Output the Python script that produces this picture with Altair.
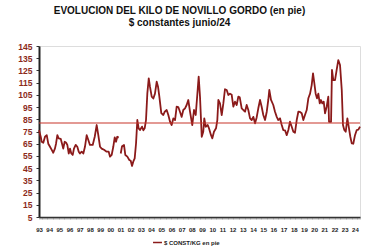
import altair as alt
import pandas as pd

# Decimal year / price ($ constantes junio/24 por kg) -- segment before the 2001 gap
T1 = [1993.00, 1993.17, 1993.26, 1993.42, 1993.59, 1993.76, 1993.91, 1994.08, 1994.25, 1994.40,
      1994.57, 1994.67, 1994.80, 1994.93, 1995.13, 1995.26, 1995.38, 1995.52, 1995.65, 1995.78,
      1995.92, 1996.04, 1996.17, 1996.31, 1996.43, 1996.60, 1996.76, 1996.90, 1997.02, 1997.19,
      1997.35, 1997.51, 1997.68, 1997.84, 1998.00, 1998.27, 1998.47, 1998.66, 1998.82, 1998.99,
      1999.15, 1999.38, 1999.64, 1999.84, 1999.97, 2000.13, 2000.29, 2000.43, 2000.56, 2000.68,
      2000.82]
V1 = [76, 70.7, 66.6, 65.8, 70.7, 72, 65, 62.5, 59.9, 57.6,
      61.2, 65, 72, 69.4, 69, 65, 61, 66.6, 66, 64,
      57, 61, 57, 55.8, 61, 64, 62.5, 58.5, 57, 58.5,
      57, 62.5, 72, 68, 64, 64, 70.7, 80.3, 72, 62.5,
      61, 60, 58.5, 58.5, 54.4, 55.8, 62.5, 70.2, 66.6, 70.7,
      70]

# Segment after the gap
T2 = [2001.02, 2001.15, 2001.34, 2001.47, 2001.67, 2001.86, 2002.00, 2002.13, 2002.25, 2002.39,
      2002.52, 2002.65, 2002.78, 2002.91, 2003.11, 2003.24, 2003.37, 2003.50, 2003.63, 2003.77,
      2003.89, 2004.06, 2004.22, 2004.38, 2004.55, 2004.68, 2004.81, 2005.00, 2005.20, 2005.34,
      2005.53, 2005.69, 2005.86, 2006.02, 2006.18, 2006.35, 2006.51, 2006.67, 2006.84, 2007.00,
      2007.16, 2007.33, 2007.49, 2007.65, 2007.82, 2008.04, 2008.21, 2008.38, 2008.57, 2008.67,
      2008.80, 2008.97, 2009.12, 2009.22, 2009.36, 2009.56, 2009.68, 2009.88, 2010.01, 2010.17,
      2010.37, 2010.50, 2010.60, 2010.76, 2010.93, 2011.09, 2011.25, 2011.42, 2011.58, 2011.74,
      2011.91, 2012.07, 2012.23, 2012.40, 2012.56, 2012.70, 2012.89, 2013.05, 2013.22, 2013.38,
      2013.54, 2013.71, 2013.87, 2014.03, 2014.20, 2014.36, 2014.52, 2014.69, 2014.85, 2015.01,
      2015.18, 2015.35, 2015.50, 2015.60, 2015.77, 2015.99, 2016.16, 2016.33, 2016.48, 2016.65,
      2016.82, 2016.97, 2017.14, 2017.31, 2017.47, 2017.63, 2017.80, 2017.96, 2018.12, 2018.29,
      2018.45, 2018.61, 2018.78, 2018.94, 2019.10, 2019.27, 2019.43, 2019.60, 2019.76, 2019.89,
      2020.02, 2020.15, 2020.28, 2020.41, 2020.55, 2020.67, 2020.80, 2020.94, 2021.07, 2021.23,
      2021.39, 2021.46, 2021.66, 2021.75, 2021.88, 2022.05, 2022.21, 2022.37, 2022.54, 2022.71,
      2022.83, 2022.96, 2023.10, 2023.26, 2023.42, 2023.55, 2023.69, 2023.84, 2024.01, 2024.18,
      2024.34, 2024.50]
V2 = [57, 63, 64, 55.8, 54.4, 51.7, 51, 46.8, 50.3, 53,
      65, 84.4, 77.6, 76.2, 79, 76, 77.6, 84.4, 106, 118.5,
      111.7, 103.5, 102, 106, 115.8, 111.7, 103.5, 90, 88.5, 91.2,
      92.6, 88.5, 83, 80.3, 85.7, 84.4, 95.3, 95, 91, 87,
      92.6, 94, 96.7, 100.8, 91.2, 80.3, 92.6, 88.5, 109, 119.9,
      103.5, 70.7, 74.8, 85.8, 78.9, 80.3, 77.6, 72, 69.4, 74.8,
      77.6, 84.4, 100.8, 98, 88.5, 98, 109.6, 109, 104.9, 106,
      105, 95.3, 99.4, 96.7, 103.5, 103, 94, 92.6, 91.2, 96.7,
      92.6, 85.8, 84.4, 87, 81.7, 86.5, 94, 100.8, 95.3, 88.5,
      84.4, 91.2, 100.8, 109, 100.8, 96.7, 91.2, 87, 84.4, 85.8,
      80.3, 76.2, 76, 72, 76.2, 83, 78.9, 74.8, 74, 84.4,
      91.2, 91, 89.9, 84.4, 88.5, 92.6, 102.2, 106, 113, 122.6,
      114.5, 106, 102.2, 106, 98, 100.8, 98, 99.4, 89.9, 95.3,
      103.5, 83, 83, 125.4, 117, 117, 125.4, 133.5, 129.4, 109,
      80.3, 76.2, 74.8, 85.8, 77.6, 70.7, 65.3, 65, 72, 76.2,
      76.5, 79]

REF_LEVEL = [82]
SERIES = "$ CONST/KG  en pie"
Y_TICKS = list(range(5, 146, 10))
X_START, X_END = 1993, 2024.5

df = pd.DataFrame({
    "t": T1 + T2,
    "v": V1 + V2,
    "seg": [0] * len(T1) + [1] * len(T2),
    "serie": [SERIES] * (len(T1) + len(T2)),
})
ref_df = pd.DataFrame({"ref": REF_LEVEL})

month_ticks = [X_START + m / 12 for m in range(int((X_END - X_START) * 12) + 1)]

FONT = "Liberation Sans"
DARK = "#8B1A1A"

y_scale = alt.Scale(domain=[5, 145], nice=False, zero=False)
y_axis = alt.Axis(values=Y_TICKS, title=None, grid=False,
                  labelOverlap=False, labelFlush=False,
                  labelFont=FONT, labelFontWeight="bold", labelFontSize=8.5,
                  labelColor="#8B2A1A", labelPadding=4,
                  tickSize=3, tickColor="#333", tickWidth=1,
                  domainColor="#222", domainWidth=2)

line = alt.Chart(df).mark_line(strokeWidth=1.8, strokeJoin="round").encode(
    x=alt.X("t:Q",
            scale=alt.Scale(domain=[X_START, X_END], nice=False, zero=False),
            axis=alt.Axis(values=month_ticks, title=None, grid=False,
                          labelExpr="abs(datum.value - round(datum.value)) < 0.001 ? slice(toString(round(datum.value)), 2) : ''",
                          labelOverlap=False, labelFlush=False,
                          labelFont=FONT, labelFontWeight="bold", labelFontSize=6,
                          labelColor="#222", labelPadding=7,
                          tickSize=2, tickColor="#999", tickWidth=0.6,
                          domainColor="#333", domainWidth=1.5)),
    y=alt.Y("v:Q", scale=y_scale, axis=y_axis),
    detail="seg:N",
    color=alt.Color("serie:N",
                    scale=alt.Scale(range=[DARK]),
                    legend=alt.Legend(title=None, orient="none", legendX=113, legendY=191,
                                      symbolType="stroke", symbolStrokeWidth=1.5, symbolSize=80,
                                      labelFont=FONT, labelFontWeight="bold", labelFontSize=6,
                                      labelColor="#222", labelOffset=1)),
)

rule = alt.Chart(ref_df).mark_rule(color="#C8352B", strokeWidth=1.1).encode(
    y=alt.Y("ref:Q", scale=y_scale, axis=y_axis)
)

chart = alt.layer(line, rule).properties(
    width=321, height=171,
    autosize=alt.AutoSizeParams(type="none"),
    padding={"left": 39, "top": 46, "right": 15, "bottom": 35},
    title=alt.Title(
        "EVOLUCION DEL KILO DE NOVILLO GORDO (en pie)",
        subtitle="$ constantes junio/24",
        anchor="middle", dx=-20, offset=14,
        font=FONT, fontSize=10, fontWeight="bold", color="#111",
        subtitleFont=FONT, subtitleFontSize=10, subtitleFontWeight="bold",
        subtitleColor="#111", subtitlePadding=2,
    ),
).configure_view(
    stroke="#777", strokeWidth=1
).configure(background="white")

chart.save("out.html", embed_options={"renderer": "svg", "actions": False})
